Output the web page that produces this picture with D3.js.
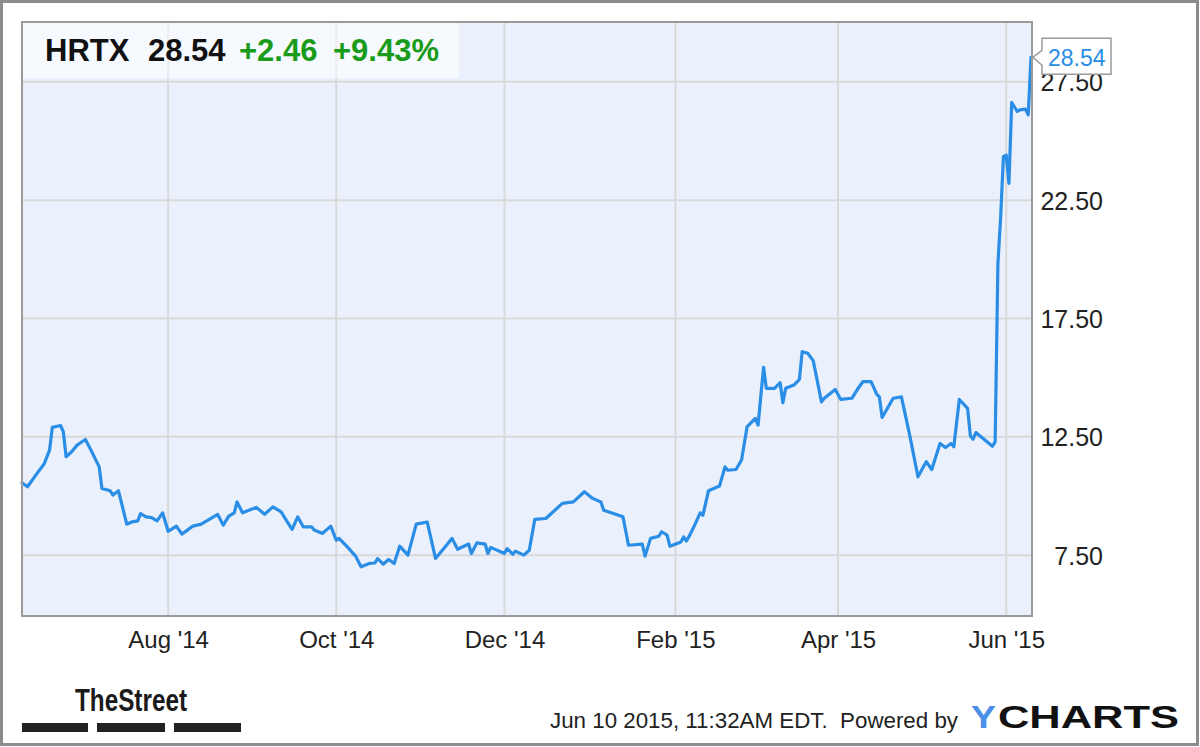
<!DOCTYPE html>
<html>
<head>
<meta charset="utf-8">
<script src="https://cdn.jsdelivr.net/npm/d3@7"></script>
<style>
  html, body { margin: 0; padding: 0; background: #fff; }
  svg { display: block; font-family: "Liberation Sans", Arial, sans-serif; }
</style>
</head>
<body>
<svg id="chart" width="1200" height="747"></svg>
<script>
// ---- data ----
const dates = [
"2014-06-09","2014-06-11","2014-06-14","2014-06-17","2014-06-19","2014-06-20","2014-06-23","2014-06-24","2014-06-25","2014-06-27",
"2014-06-29","2014-07-02","2014-07-04","2014-07-07","2014-07-08","2014-07-11","2014-07-12","2014-07-14","2014-07-17","2014-07-19",
"2014-07-21","2014-07-22","2014-07-24","2014-07-26","2014-07-28","2014-07-30","2014-08-01","2014-08-04","2014-08-06","2014-08-08",
"2014-08-10","2014-08-13","2014-08-15","2014-08-19","2014-08-21","2014-08-23","2014-08-25","2014-08-26","2014-08-28","2014-08-31",
"2014-09-02","2014-09-05","2014-09-08","2014-09-11","2014-09-13","2014-09-15","2014-09-17","2014-09-19","2014-09-22","2014-09-23",
"2014-09-26","2014-09-29","2014-10-01","2014-10-02","2014-10-05","2014-10-08","2014-10-10","2014-10-13","2014-10-15","2014-10-16",
"2014-10-18","2014-10-20","2014-10-22","2014-10-24","2014-10-27","2014-10-30","2014-11-03","2014-11-06","2014-11-09","2014-11-12",
"2014-11-14","2014-11-18","2014-11-19","2014-11-21","2014-11-24","2014-11-25","2014-11-26","2014-12-01","2014-12-02","2014-12-04",
"2014-12-05","2014-12-08","2014-12-10","2014-12-12","2014-12-16","2014-12-18","2014-12-22","2014-12-26","2014-12-30","2015-01-02",
"2015-01-05","2015-01-06","2015-01-13","2015-01-15","2015-01-20","2015-01-21","2015-01-23","2015-01-26","2015-01-27","2015-01-29",
"2015-01-30","2015-02-03","2015-02-04","2015-02-05","2015-02-06","2015-02-08","2015-02-10","2015-02-11","2015-02-13","2015-02-17",
"2015-02-19","2015-02-20","2015-02-23","2015-02-25","2015-02-27","2015-03-02","2015-03-03","2015-03-05","2015-03-06","2015-03-09",
"2015-03-11","2015-03-12","2015-03-13","2015-03-16","2015-03-18","2015-03-19","2015-03-21","2015-03-23","2015-03-26","2015-03-27",
"2015-03-31","2015-04-02","2015-04-06","2015-04-08","2015-04-10","2015-04-13","2015-04-15","2015-04-16","2015-04-17","2015-04-21",
"2015-04-24","2015-04-27","2015-04-30","2015-05-03","2015-05-05","2015-05-08","2015-05-10","2015-05-12","2015-05-13","2015-05-15",
"2015-05-18","2015-05-19","2015-05-20","2015-05-21","2015-05-27","2015-05-28","2015-05-29","2015-05-30","2015-05-31","2015-06-01",
"2015-06-02","2015-06-03","2015-06-05","2015-06-06","2015-06-08","2015-06-09","2015-06-10"
];
const prices = [
10.56,10.39,10.88,11.35,11.94,12.90,12.98,12.71,11.66,11.87,
12.15,12.39,11.94,11.23,10.32,10.22,10.04,10.22,8.81,8.91,
8.95,9.26,9.12,9.09,8.95,9.29,8.51,8.73,8.39,8.56,
8.73,8.81,8.95,9.22,8.77,9.15,9.29,9.75,9.29,9.43,
9.52,9.23,9.54,9.33,8.95,8.59,9.12,8.70,8.70,8.56,
8.42,8.73,8.13,8.21,7.85,7.46,7.01,7.15,7.17,7.36,
7.12,7.32,7.15,7.88,7.50,8.81,8.90,7.36,7.78,8.21,
7.75,7.97,7.57,8.02,7.97,7.57,7.83,7.57,7.78,7.54,
7.67,7.50,7.71,9.01,9.05,9.26,9.69,9.75,10.18,9.90,
9.75,9.40,9.12,7.92,7.97,7.46,8.21,8.30,8.49,8.35,
7.88,8.06,8.27,8.10,8.30,8.77,9.29,9.19,10.22,10.42,
11.23,11.09,11.12,11.52,12.92,13.28,13.00,15.44,14.55,14.55,
14.79,13.94,14.55,14.69,14.93,16.10,16.03,15.72,13.98,14.13,
14.50,14.08,14.13,14.50,14.83,14.83,14.31,14.19,13.32,14.13,
14.19,12.57,10.81,11.45,11.12,12.22,12.05,12.22,12.08,14.08,
13.70,12.55,12.40,12.68,12.10,12.29,19.83,21.80,24.34,24.41,
23.21,26.63,26.25,26.32,26.35,26.11,28.54
];
const yTicks = [7.5, 12.5, 17.5, 22.5, 27.5];
const xTicks = ["2014-08-01","2014-10-01","2014-12-01","2015-02-01","2015-04-01","2015-06-01"];
const ticker = "HRTX";
const lastPrice = "28.54";
const change = "+2.46";
const changePct = "+9.43%";
const footerText = "Jun 10 2015, 11:32AM EDT.  Powered by";

// ---- layout ----
const parse = d3.timeParse("%Y-%m-%d");
const data = dates.map((d, i) => ({ date: parse(d), value: prices[i] }));
const P = { left: 22, right: 1032, top: 22, bottom: 616 };
const svg = d3.select("#chart");

const x = d3.scaleTime()
  .domain([parse("2014-06-09"), parse("2015-06-10")])
  .range([P.left, 1031]);
const y = d3.scaleLinear()
  .domain([4.93, 30.03])
  .range([P.bottom, P.top]);

// outer frame
svg.append("rect").attr("x", 1.5).attr("y", 1.5).attr("width", 1196).attr("height", 743)
  .attr("fill", "#fff").attr("stroke", "#8c8c8c").attr("stroke-width", 3);

// plot background
svg.append("rect").attr("x", P.left).attr("y", P.top)
  .attr("width", P.right - P.left).attr("height", P.bottom - P.top)
  .attr("fill", "#eaf1fd");

// grid
svg.append("g").selectAll("line").data(yTicks).join("line")
  .attr("x1", P.left).attr("x2", P.right)
  .attr("y1", d => y(d)).attr("y2", d => y(d))
  .attr("stroke", "#d9d9d9").attr("stroke-width", 2);
svg.append("g").selectAll("line").data(xTicks.map(parse)).join("line")
  .attr("x1", d => x(d)).attr("x2", d => x(d))
  .attr("y1", P.top).attr("y2", P.bottom)
  .attr("stroke", "#d9d9d9").attr("stroke-width", 2);

// header box
svg.append("rect").attr("x", P.left).attr("y", P.top).attr("width", 437).attr("height", 56)
  .attr("fill", "#ffffff").attr("fill-opacity", 0.55);
const head = svg.append("text").attr("x", 45).attr("y", 61)
  .attr("font-size", 31).attr("font-weight", "bold");
head.append("tspan").attr("fill", "#111").text(ticker);
head.append("tspan").attr("x", 148).attr("fill", "#111").text(lastPrice);
head.append("tspan").attr("x", 239).attr("fill", "#1a9c1a").text(change);
head.append("tspan").attr("x", 333).attr("fill", "#1a9c1a").text(changePct);

// line
const line = d3.line().x(d => x(d.date)).y(d => y(d.value));
svg.append("path").datum(data).attr("d", line)
  .attr("fill", "none").attr("stroke", "#2a8de6").attr("stroke-width", 3.2)
  .attr("stroke-linejoin", "round").attr("stroke-linecap", "round");

// plot border
svg.append("rect").attr("x", P.left).attr("y", P.top)
  .attr("width", P.right - P.left).attr("height", P.bottom - P.top)
  .attr("fill", "none").attr("stroke", "#9a9a9a").attr("stroke-width", 2);

// y axis (right)
const fmtY = d3.format(".2f");
const yAxis = d3.axisRight(y).tickValues(yTicks).tickFormat(fmtY).tickSize(0).tickPadding(0);
const gy = svg.append("g").attr("transform", `translate(1103,0)`).call(yAxis);
gy.select(".domain").remove();
gy.selectAll("text").attr("text-anchor", "end").attr("x", 0).attr("dy", "0.36em")
  .attr("font-size", 25).attr("fill", "#222").attr("font-family", "Liberation Sans, Arial, sans-serif");

// x axis
const fmtX = d3.timeFormat("%b '%y");
const xAxis = d3.axisBottom(x).tickValues(xTicks.map(parse)).tickFormat(fmtX).tickSize(0).tickPadding(0);
const gx = svg.append("g").attr("transform", `translate(0,648)`).call(xAxis);
gx.select(".domain").remove();
gx.selectAll("text").attr("dy", 0).attr("y", 0)
  .attr("font-size", 24).attr("fill", "#222").attr("font-family", "Liberation Sans, Arial, sans-serif");

// last price callout
const last = data[data.length - 1];
const lx = x(last.date), ly = y(last.value);
svg.append("path")
  .attr("d", `M${lx + 11},${ly - 19} H1111 V${ly + 17} H${lx + 11} V${ly + 8} L${lx + 2},${ly} L${lx + 11},${ly - 7} Z`)
  .attr("fill", "#fff").attr("stroke", "#9a9a9a").attr("stroke-width", 1.5);
svg.append("text").attr("x", lx + 17).attr("y", ly + 9)
  .attr("font-size", 23).attr("fill", "#2a8de6").text(last.value.toFixed(2));

// footer: TheStreet
svg.append("text").attr("x", 75).attr("y", 711)
  .attr("font-size", 32).attr("font-weight", "bold").attr("fill", "#1a1a1a")
  .attr("textLength", 112).attr("lengthAdjust", "spacingAndGlyphs")
  .text("TheStreet");
svg.append("g").selectAll("rect").data([[22, 88], [97, 165], [174, 241]]).join("rect")
  .attr("x", d => d[0]).attr("width", d => d[1] - d[0]).attr("y", 723).attr("height", 9)
  .attr("fill", "#222");

// footer text
svg.append("text").attr("x", 550).attr("y", 728).attr("font-size", 22).attr("fill", "#222")
  .attr("xml:space", "preserve").style("white-space", "pre")
  .attr("textLength", 408).attr("lengthAdjust", "spacingAndGlyphs")
  .text(footerText);
svg.append("text").attr("x", 971).attr("y", 728).attr("font-size", 31).attr("font-weight", "bold")
  .attr("fill", "#4a90e8").attr("textLength", 25).attr("lengthAdjust", "spacingAndGlyphs").text("Y");
svg.append("text").attr("x", 998).attr("y", 728).attr("font-size", 31).attr("font-weight", "bold")
  .attr("fill", "#111").attr("textLength", 181).attr("lengthAdjust", "spacingAndGlyphs").text("CHARTS");
</script>
</body>
</html>
